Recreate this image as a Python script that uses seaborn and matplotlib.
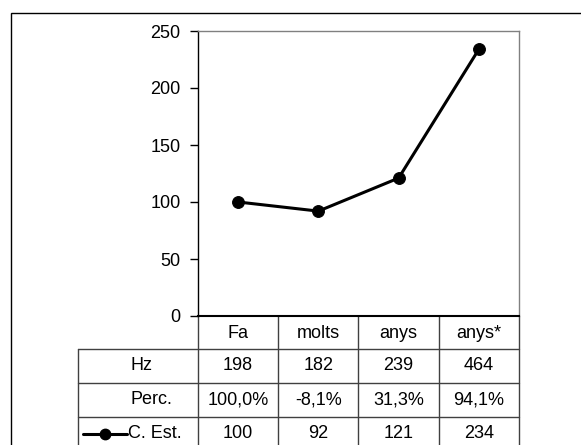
import matplotlib
matplotlib.use("Agg")
import matplotlib.pyplot as plt
import matplotlib.transforms as mtransforms
from matplotlib.patches import Rectangle
from matplotlib.lines import Line2D
import seaborn as sns
import pandas as pd

categories = ["Fa", "molts", "anys", "anys*"]
hz_values = ["198", "182", "239", "464"]
perc_values = ["100,0%", "-8,1%", "31,3%", "94,1%"]
est_values = [100, 92, 121, 234]
row_labels = ["Hz", "Perc.", "C. Est."]
y_ticks = [0, 50, 100, 150, 200, 250]

sns.set_style("white")
plt.rcParams["font.family"] = ["Liberation Sans", "DejaVu Sans"]
plt.rcParams["text.color"] = "black"
plt.rcParams["ytick.labelcolor"] = "black"
FS = 13

W, H = 581, 445
fig = plt.figure(figsize=(W / 100, H / 100), dpi=100)

def fx(px):
    return px / W

def fy(py):
    return 1 - py / H

# outer frame
fig.patches.append(Rectangle((fx(11), -0.05), 1.2, fy(13) + 0.05, transform=fig.transFigure,
                             fill=False, edgecolor="black", linewidth=1.0, zorder=0))

ax_l, ax_r, ax_t, ax_b = 198, 519, 31, 316
ax = fig.add_axes([fx(ax_l), fy(ax_b), fx(ax_r) - fx(ax_l), fy(ax_t) - fy(ax_b)])
ax.patch.set_alpha(0)

df = pd.DataFrame({"cat": range(len(categories)), "val": est_values})
sns.lineplot(data=df, x="cat", y="val", ax=ax, color="black", linewidth=2.2,
             marker="o", markersize=8.5, markeredgecolor="black", legend=False)

ax.set_xlim(-0.5, len(categories) - 0.5)
ax.set_ylim(0, 250)
ax.set_yticks(y_ticks)
ax.set_yticklabels([str(t) for t in y_ticks], fontsize=FS, color="black")
ax.set_xticks([])
ax.set_xlabel("")
ax.set_ylabel("")
ax.tick_params(axis="y", direction="out", length=5.5, width=1, color="black", pad=7, left=True)
for s in ["top", "right"]:
    ax.spines[s].set_color("#808080")
    ax.spines[s].set_linewidth(1)
ax.spines["left"].set_color("black")
ax.spines["left"].set_linewidth(1)
ax.spines["bottom"].set_color("black")
ax.spines["bottom"].set_linewidth(1.5)

# table
axh = ax_b - ax_t
def ay(py):
    return (ax_b - py) / axh

trans = mtransforms.blended_transform_factory(ax.transData, ax.transAxes)
tc = "#404040"
n = len(categories)
# horizontal lines
for py in [349, 383, 417]:
    fig.add_artist(Line2D([fx(78), fx(ax_r)], [fy(py), fy(py)], transform=fig.transFigure,
                          color=tc, lw=1))
# vertical lines between columns
for i in range(n + 1):
    ax.plot([i - 0.5, i - 0.5], [ay(316), ay(470)], transform=trans, color=tc, lw=1, clip_on=False)
fig.add_artist(Line2D([fx(78), fx(78)], [fy(349), fy(470)], transform=fig.transFigure, color=tc, lw=1))

# header
for i, c in enumerate(categories):
    ax.text(i, ay(333), c, transform=trans, ha="center", va="center", fontsize=FS,
            color="black", clip_on=False)
rows = [hz_values, perc_values, [str(v) for v in est_values]]
centers = [366, 400, 434]
for r, (lab, vals, cy) in enumerate(zip(row_labels, rows, centers)):
    for i, v in enumerate(vals):
        ax.text(i, ay(cy), v, transform=trans, ha="center", va="center", fontsize=FS,
                color="black", clip_on=False)
    lx = 131 if r < 2 else 128
    fig.text(fx(lx), fy(cy), lab, ha="left", va="center", fontsize=FS, color="black")

# legend key in the last row
fig.add_artist(Line2D([fx(83), fx(127)], [fy(434), fy(434)], transform=fig.transFigure,
                      color="black", lw=2.2))
fig.add_artist(Line2D([fx(105)], [fy(434)], transform=fig.transFigure, color="black",
                      marker="o", markersize=7.5, linestyle="none"))

fig.savefig("out.png", dpi=100)
